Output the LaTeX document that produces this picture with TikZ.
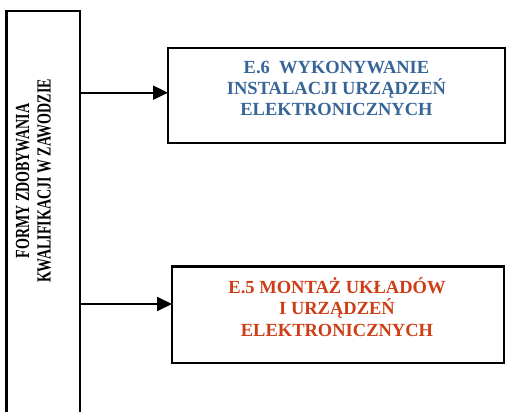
\documentclass[tikz,border=0pt]{standalone}
\usepackage{fontspec}
\setmainfont{Liberation Serif}
\usetikzlibrary{arrows.meta}
\definecolor{eblue}{RGB}{56,101,152}
\definecolor{ered}{RGB}{205,62,22}
\tikzset{
  framebox/.style={draw, line width=2.4pt, outer sep=0pt, inner sep=0pt},
  boxtext/.style={align=center, font=\bfseries\fontsize{18.5}{21.3}\selectfont, inner sep=0pt},
  arr/.style={line width=2pt, -{Triangle[length=15pt,width=14pt]}}
}
\begin{document}
\begin{tikzpicture}[x=1pt,y=1pt]
\useasboundingbox (0,0) rectangle (506,-412);
\clip (0,0) rectangle (506,-412);
% left frame (runs past bottom edge)
\node[framebox, minimum width=73.5pt, minimum height=440pt, anchor=north west] (formy) at (6.5,-11) {};
\node[rotate=90, inner sep=0pt, font=\bfseries\fontsize{20}{21.5}\selectfont] (formytxt) at (35.5,-181)
  {\scalebox{0.70}[1]{\begin{tabular}{@{}c@{}}FORMY ZDOBYWANIA\\KWALIFIKACJI W ZAWODZIE\end{tabular}}};
% right boxes
\node[framebox, minimum width=337pt, minimum height=95pt] (e6) at (336.5,-95.5) {};
\node[boxtext, text=eblue] (e6txt) at (336.5,-88.5) {E.6\ \ WYKONYWANIE\\INSTALACJI URZĄDZEŃ\\ELEKTRONICZNYCH};
\node[framebox, minimum width=332pt, minimum height=96.5pt] (e5) at (338,-314.75) {};
\node[boxtext, text=ered] (e5txt) at (337,-307) {E.5 MONTAŻ UKŁADÓW\\I URZĄDZEŃ\\ELEKTRONICZNYCH};
% connectors
\coordinate (a1) at (0,-92.7);
\coordinate (a2) at (0,-304);
\draw[arr] (formy.east |- a1) -- (e6.west |- a1);
\draw[arr] (formy.east |- a2) -- (e5.west |- a2);
\end{tikzpicture}
\end{document}
